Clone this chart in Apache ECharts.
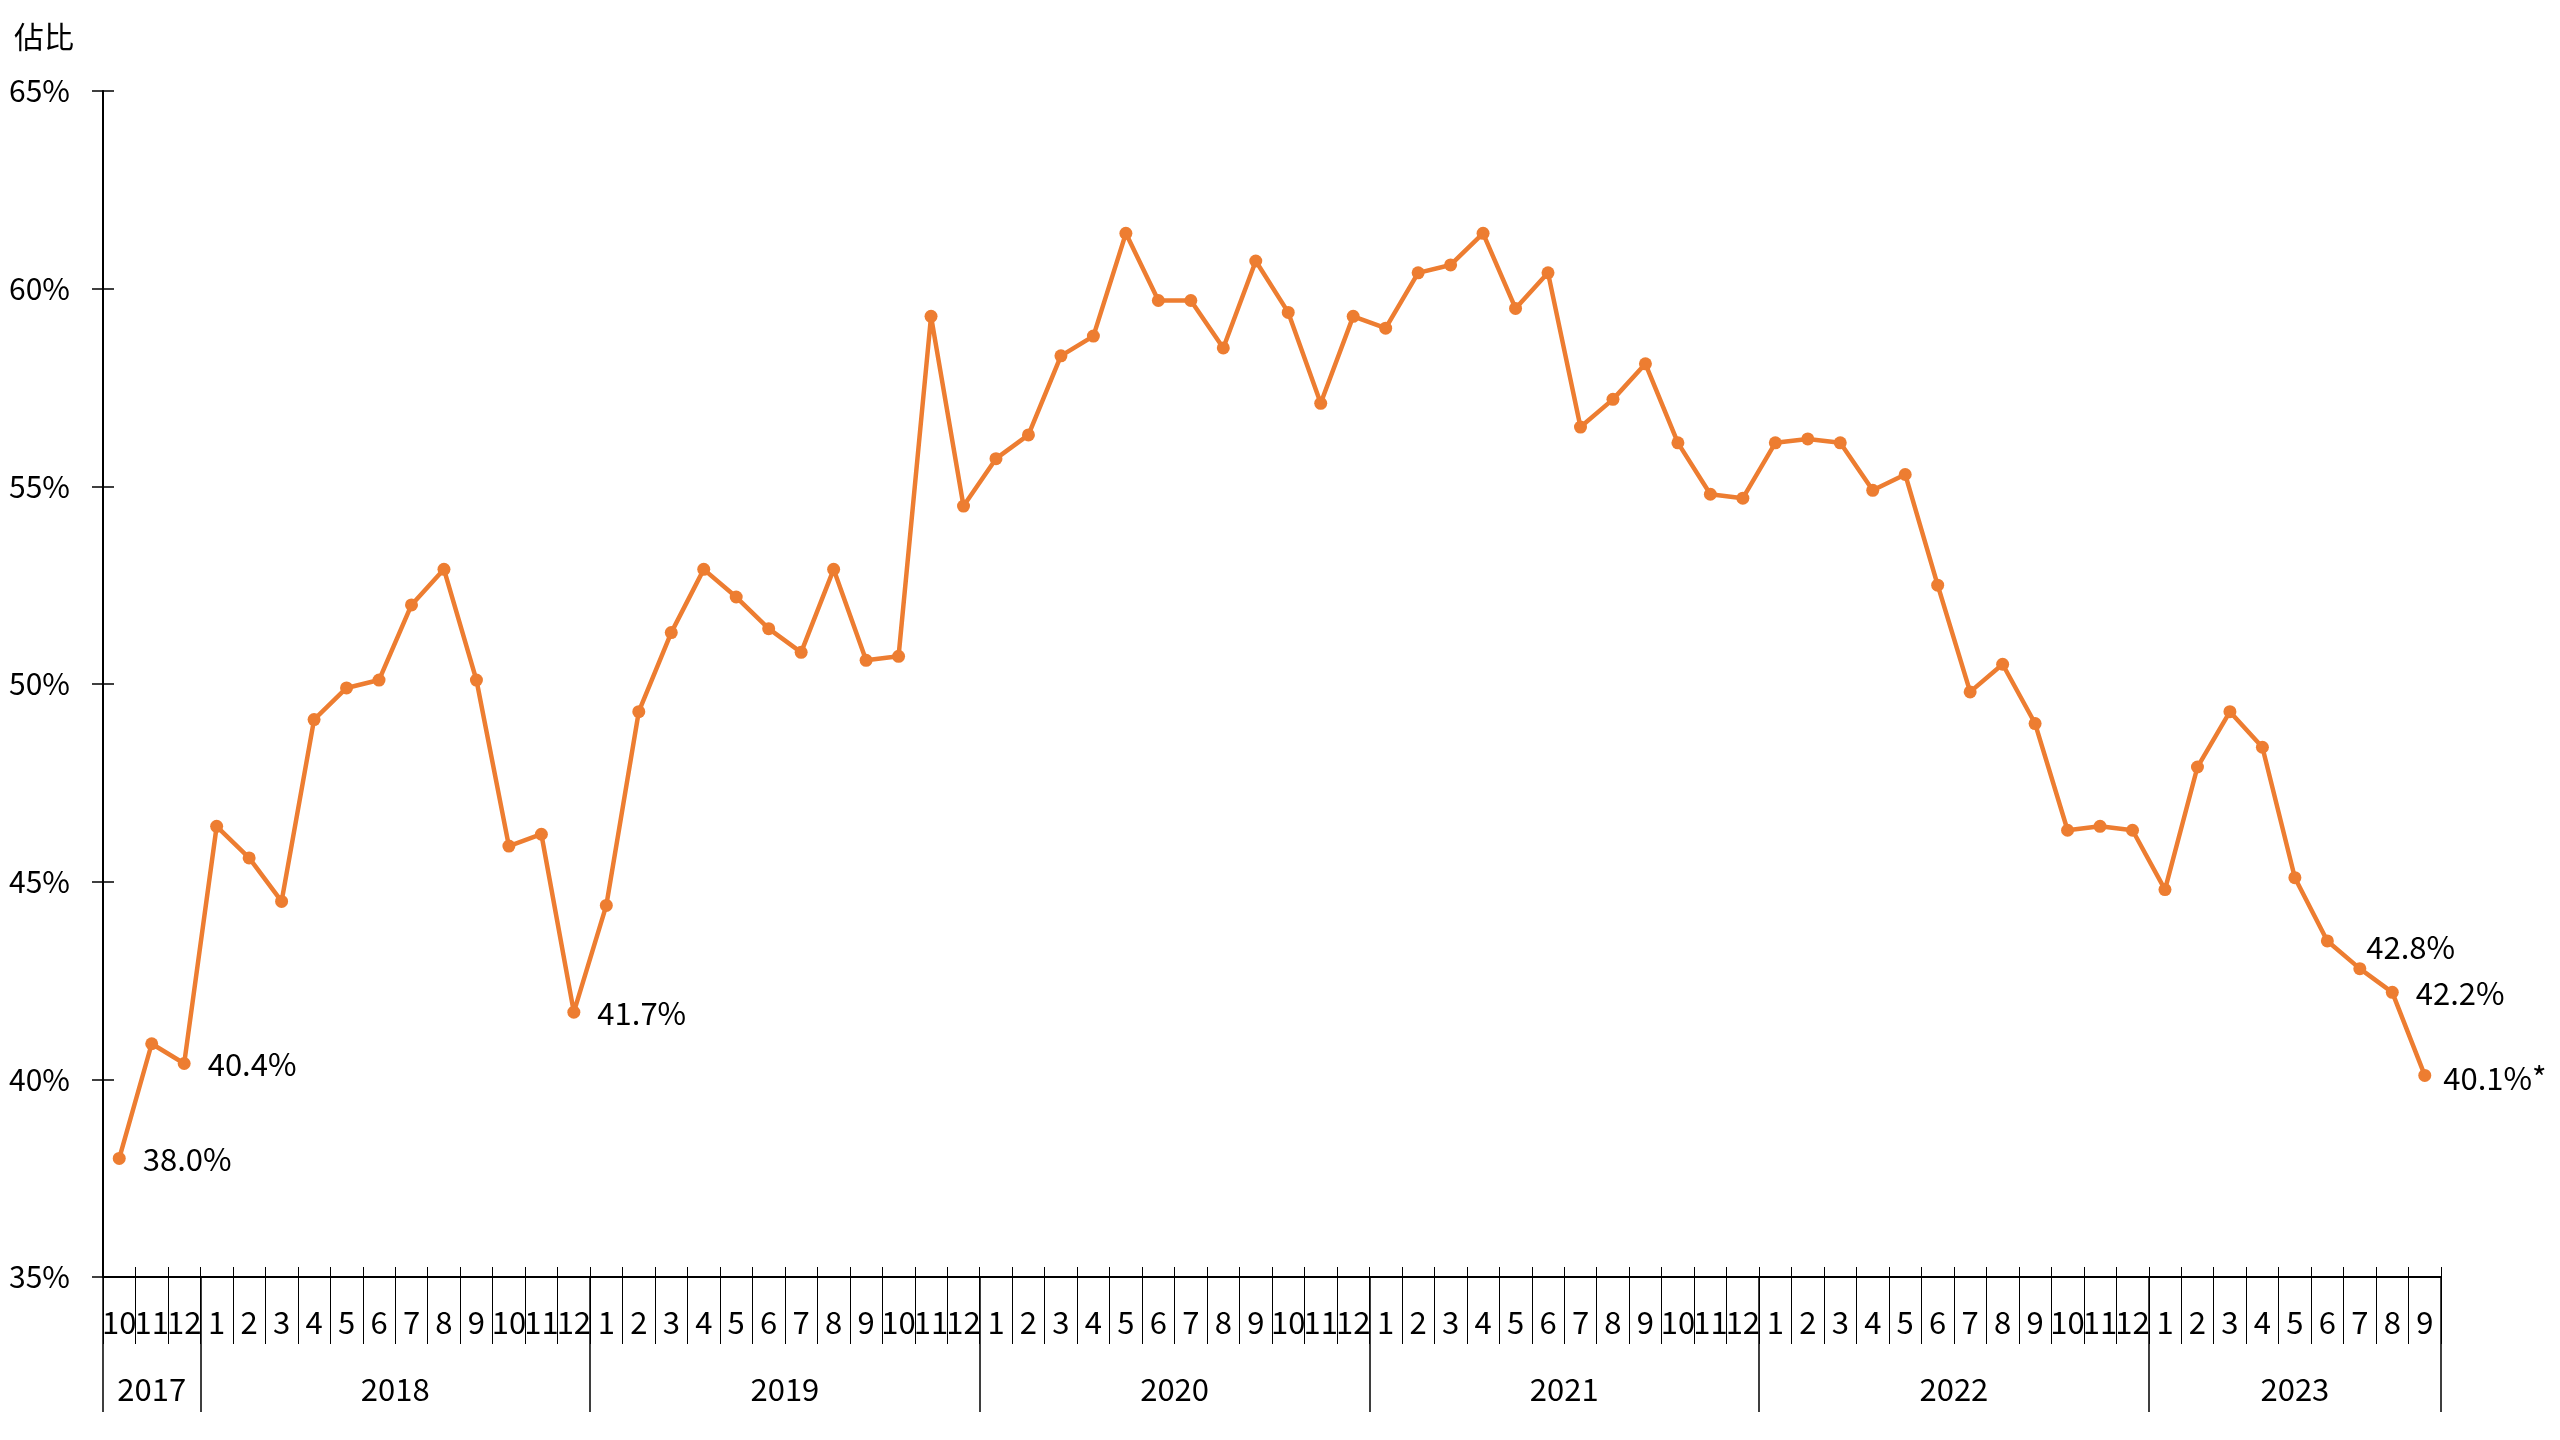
<!DOCTYPE html>
<html>
<head>
<meta charset="utf-8">
<script src="https://cdn.jsdelivr.net/npm/echarts@6/dist/echarts.min.js"></script>
<style>
  html, body { margin: 0; padding: 0; background: #fff; }
  #chart { width: 2560px; height: 1440px; }
</style>
</head>
<body>
<div id="chart"></div>
<script>
// ---- Data ----
const months = [
  '10','11','12',
  '1','2','3','4','5','6','7','8','9','10','11','12',
  '1','2','3','4','5','6','7','8','9','10','11','12',
  '1','2','3','4','5','6','7','8','9','10','11','12',
  '1','2','3','4','5','6','7','8','9','10','11','12',
  '1','2','3','4','5','6','7','8','9','10','11','12',
  '1','2','3','4','5','6','7','8','9'
];
const years = ['2017','2018','2019','2020','2021','2022','2023'];
const monthsPerYear = [3, 12, 12, 12, 12, 12, 9];
const shares = [
  38.0, 40.9, 40.4,
  46.4, 45.6, 44.5, 49.1, 49.9, 50.1, 52.0, 52.9, 50.1, 45.9, 46.2, 41.7,
  44.4, 49.3, 51.3, 52.9, 52.2, 51.4, 50.8, 52.9, 50.6, 50.7, 59.3, 54.5,
  55.7, 56.3, 58.3, 58.8, 61.4, 59.7, 59.7, 58.5, 60.7, 59.4, 57.1, 59.3,
  59.0, 60.4, 60.6, 61.4, 59.5, 60.4, 56.5, 57.2, 58.1, 56.1, 54.8, 54.7,
  56.1, 56.2, 56.1, 54.9, 55.3, 52.5, 49.8, 50.5, 49.0, 46.3, 46.4, 46.3,
  44.8, 47.9, 49.3, 48.4, 45.1, 43.5, 42.8, 42.2, 40.1
];
const labelledIndex = [0, 2, 14, 69, 70, 71];
const labelNote = ['', '', '', '', '', '*'];
const yTicks = [35, 40, 45, 50, 55, 60, 65];
const yAxisTitle = '佔比';

// ---- Build ----
const FONT = '"Noto Sans CJK TC", "Noto Sans", sans-serif';
const BLACK = '#000';
const ORANGE = '#ED7D31';

const yearBounds = [0];
monthsPerYear.forEach(n => yearBounds.push(yearBounds[yearBounds.length - 1] + n));
const yearMids = years.map((y, i) => (yearBounds[i] + yearBounds[i + 1]) / 2);
const total = yearBounds[yearBounds.length - 1];

const labelOffsets = { 69: [-17, -21], 71: [-5, 3] };

const seriesData = shares.map((v, i) => {
  const k = labelledIndex.indexOf(i);
  if (k < 0) return v;
  return {
    value: v,
    label: {
      show: true,
      position: 'right',
      distance: 17,
      offset: labelOffsets[i] || [0, 1],
      formatter: p => p.value.toFixed(1) + '%' + labelNote[k],
      fontSize: 31,
      color: BLACK,
      fontFamily: FONT
    }
  };
});

const g = { left: 103, right: 119, top: 91, bottom: 163, containLabel: false, outerBoundsMode: 'none' };

const option = {
  animation: false,
  backgroundColor: '#fff',
  textStyle: { fontFamily: FONT },
  title: {
    text: yAxisTitle,
    left: 9,
    top: 17,
    textStyle: { fontSize: 30, fontWeight: 'normal', color: BLACK, lineHeight: 30, fontFamily: FONT }
  },
  grid: [Object.assign({}, g), Object.assign({}, g), Object.assign({}, g)],
  xAxis: [
    {
      gridIndex: 0, type: 'category', data: months, boundaryGap: true,
      axisLine: { show: true, onZero: false, lineStyle: { color: BLACK, width: 2 } },
      axisTick: { show: true, interval: 0, length: 67, lineStyle: { color: BLACK, width: 1 } },
      axisLabel: { interval: 0, fontSize: 31, color: BLACK, margin: 30, fontFamily: FONT },
      splitLine: { show: false }
    },
    {
      gridIndex: 1, type: 'category', data: months, boundaryGap: true,
      axisLine: { show: false, onZero: false },
      axisTick: { show: true, inside: true, interval: 0, length: 10, lineStyle: { color: BLACK, width: 1 } },
      axisLabel: { show: false },
      splitLine: { show: false }
    },
    {
      gridIndex: 2, type: 'value', min: 0, max: total,
      axisLine: { show: false, onZero: false },
      axisTick: { show: true, customValues: yearBounds, length: 135, lineStyle: { color: BLACK, width: 1.5 } },
      axisLabel: {
        customValues: yearMids,
        formatter: v => {
          const i = yearMids.findIndex(m => Math.abs(m - v) < 1e-6);
          return i >= 0 ? years[i] : '';
        },
        fontSize: 31, color: BLACK, margin: 97, fontFamily: FONT
      },
      splitLine: { show: false }
    }
  ],
  yAxis: [
    {
      gridIndex: 0, type: 'value', min: yTicks[0], max: yTicks[yTicks.length - 1], interval: 5,
      axisLine: { show: true, onZero: false, lineStyle: { color: BLACK, width: 2 } },
      axisTick: { show: true, length: 11, lineStyle: { color: BLACK, width: 1.5 } },
      axisLabel: { formatter: '{value}%', fontSize: 30, color: BLACK, margin: 33, fontFamily: FONT },
      splitLine: { show: false }
    },
    {
      gridIndex: 1, type: 'value', min: yTicks[0], max: yTicks[yTicks.length - 1], interval: 5,
      axisLine: { show: false, onZero: false },
      axisTick: { show: true, inside: true, length: 11, lineStyle: { color: BLACK, width: 1.5 } },
      axisLabel: { show: false },
      splitLine: { show: false }
    },
    {
      gridIndex: 2, type: 'value', min: 0, max: 1, show: false,
      axisLine: { onZero: false }, splitLine: { show: false }
    }
  ],
  series: [
    {
      type: 'line',
      xAxisIndex: 0, yAxisIndex: 0,
      data: seriesData,
      smooth: false,
      symbol: 'circle',
      symbolSize: 13,
      showSymbol: true,
      showAllSymbol: true,
      lineStyle: { color: ORANGE, width: 4.5 },
      itemStyle: { color: ORANGE },
      label: { show: false },
      emphasis: { disabled: true }
    }
  ]
};

const chart = echarts.init(document.getElementById('chart'), null, { renderer: 'canvas', width: 2560, height: 1440 });
chart.setOption(option);
</script>
</body>
</html>
